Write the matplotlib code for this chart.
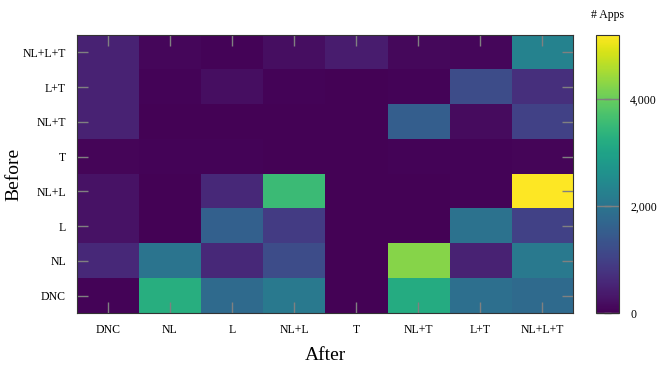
import numpy as np
import matplotlib
matplotlib.use('Agg')
import matplotlib.pyplot as plt
from matplotlib.ticker import FuncFormatter

plt.rcParams['font.family'] = ['Liberation Serif', 'DejaVu Serif']

# categorias (de abajo hacia arriba en el eje y)
estados = ['DNC', 'NL', 'L', 'NL+L', 'T', 'NL+T', 'L+T', 'NL+L+T']

# filas = Before (DNC ... NL+L+T), columnas = After
fila_dnc    = [50, 3250, 1800, 2100, 30, 3200, 1900, 1800]
fila_nl     = [600, 2000, 600, 1200, 30, 4250, 500, 2100]
fila_l      = [250, 30, 1600, 900, 30, 30, 1950, 1000]
fila_nll    = [250, 30, 600, 3550, 30, 30, 50, 5200]
fila_t      = [80, 50, 50, 40, 30, 50, 60, 80]
fila_nlt    = [500, 40, 40, 30, 30, 1550, 150, 1000]
fila_lt     = [500, 50, 200, 50, 30, 50, 1200, 700]
fila_nllt   = [500, 100, 60, 200, 400, 120, 100, 2300]

matriz = np.array([fila_dnc, fila_nl, fila_l, fila_nll,
                   fila_t, fila_nlt, fila_lt, fila_nllt])

fig = plt.figure(figsize=(6.7, 3.66), dpi=100)
ax = fig.add_axes([0.1149, 0.1448, 0.7403, 0.7596])
cax = fig.add_axes([0.8896, 0.1448, 0.0343, 0.7596])

im = ax.imshow(matriz, cmap='viridis', origin='lower', aspect='auto',
               vmin=0, vmax=5200)

ax.set_xticks(range(len(estados)))
ax.set_yticks(range(len(estados)))
ax.set_xticklabels(estados, fontsize=8.5)
ax.set_yticklabels(estados, fontsize=8.5)
ax.tick_params(direction='in', top=True, right=True, color='gray',
               length=8, width=1, pad=8)
for s in ax.spines.values():
    s.set_color('#333333')
    s.set_linewidth(0.8)

ax.set_xlabel('After', fontsize=14, labelpad=8)
ax.set_ylabel('Before', fontsize=14)
ax.yaxis.set_label_coords(-0.111, 0.5)

cb = fig.colorbar(im, cax=cax, ticks=[0, 2000, 4000])
cb.ax.yaxis.set_major_formatter(FuncFormatter(lambda v, p: '{:,.0f}'.format(v)))
cb.ax.tick_params(direction='in', left=True, right=True, color='gray',
                  length=11, width=1, labelsize=8.5, pad=8)
cb.outline.set_edgecolor('#333333')
cb.outline.set_linewidth(0.8)
cb.ax.set_title('# Apps', fontsize=8.5, pad=12)

plt.savefig('out.png', dpi=100)
